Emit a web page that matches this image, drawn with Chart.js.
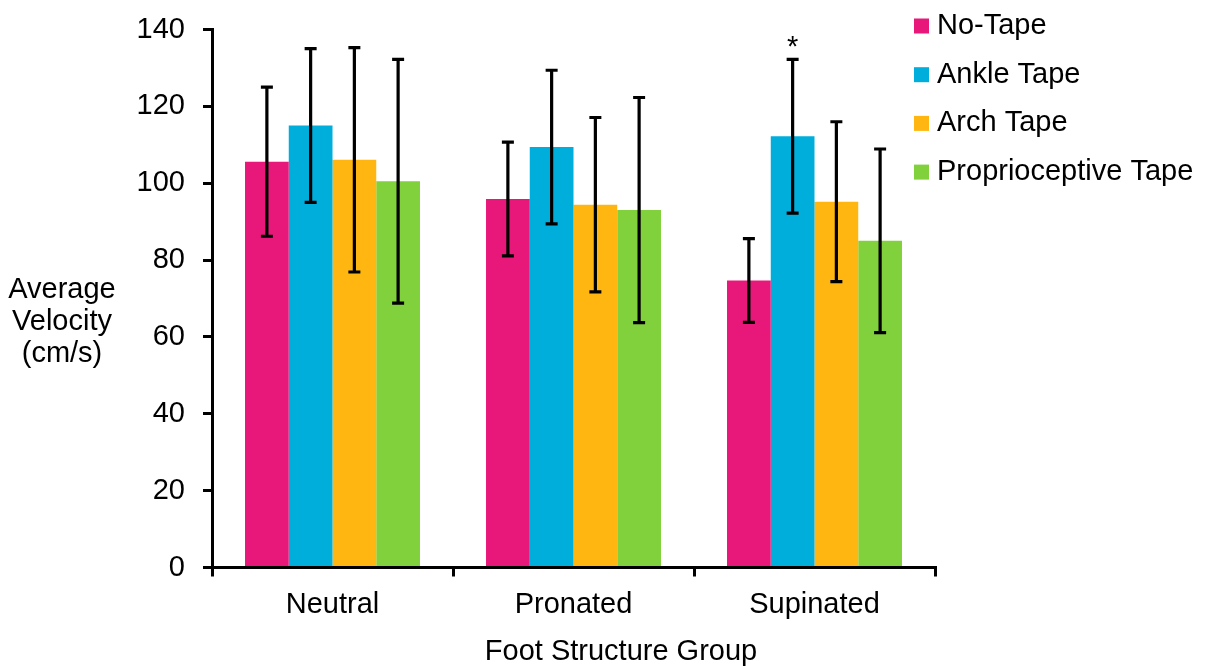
<!DOCTYPE html>
<html>
<head>
<meta charset="utf-8">
<script src="https://cdn.jsdelivr.net/npm/chart.js@4.4.1/dist/chart.umd.min.js"></script>
<style>
  html, body { margin: 0; padding: 0; background: #fff; }
  #box { width: 1205px; height: 666px; }
</style>
</head>
<body>
<div id="box"><canvas id="myChart"></canvas></div>
<script>
let grupos = ['Neutral', 'Pronated', 'Supinated']

let noTape = [105.6, 95.9, 74.7]
let noTapeDp = [19.4, 14.8, 10.9]
let ankleTape = [115.0, 109.4, 112.2]
let ankleTapeDp = [20.0, 20.0, 20.0]
let archTape = [106.1, 94.4, 95.2]
let archTapeDp = [29.2, 22.7, 20.8]
let proprioTape = [100.5, 93.0, 85.0]
let proprioTapeDp = [31.7, 29.3, 23.9]
let ankleSig = ['', '', '*']

let yMin = 0
let yMax = 140
let yPasso = 20

const fonte = '"Liberation Sans", Arial, sans-serif'
const tam = 29

// barras de erro (media +/- dp) e asterisco
const barrasErro = {
    id: 'barrasErro',
    afterDatasetsDraw(chart) {
        const c = chart.ctx
        const y = chart.scales.y
        c.save()
        c.strokeStyle = '#000'
        c.fillStyle = '#000'
        c.lineWidth = 3.2
        c.font = tam + 'px ' + fonte
        c.textAlign = 'center'
        c.textBaseline = 'alphabetic'
        chart.data.datasets.forEach((ds, i) => {
            chart.getDatasetMeta(i).data.forEach((bar, j) => {
                const topo = y.getPixelForValue(ds.data[j] + ds.dp[j])
                const base = y.getPixelForValue(ds.data[j] - ds.dp[j])
                c.beginPath()
                c.moveTo(bar.x, topo); c.lineTo(bar.x, base)
                c.moveTo(bar.x - 6, topo); c.lineTo(bar.x + 6, topo)
                c.moveTo(bar.x - 6, base); c.lineTo(bar.x + 6, base)
                c.stroke()
                if (ds.sig && ds.sig[j]) c.fillText(ds.sig[j], bar.x, topo - 3)
            })
        })
        c.restore()
    }
}

// legenda e titulos desenhados a mao
const textos = {
    id: 'textos',
    afterDraw(chart) {
        const c = chart.ctx
        c.save()
        c.font = tam + 'px ' + fonte
        c.fillStyle = '#000'
        c.textBaseline = 'middle'
        chart.data.datasets.forEach((ds, i) => {
            const ly = 26 + i * 48.7
            c.fillStyle = ds.backgroundColor
            c.fillRect(914, ly - 7.5, 15, 15)
            c.fillStyle = '#000'
            c.textAlign = 'left'
            c.fillText(ds.label, 937, ly)
        })
        c.textAlign = 'center'
        c.fillText('Average', 62, 290)
        c.fillText('Velocity', 62, 322)
        c.fillText('(cm/s)', 62, 354)
        c.fillText('Foot Structure Group', 621, 652)
        c.restore()
    }
}

var ctx = document.getElementById('myChart').getContext('2d');
var grafico = new Chart(ctx, {
    type: 'bar',
    data: {
        labels: grupos,
        datasets: [{
            label: 'No-Tape',
            data: noTape,
            dp: noTapeDp,
            backgroundColor: '#E8187A'
        }, {
            label: 'Ankle Tape',
            data: ankleTape,
            dp: ankleTapeDp,
            sig: ankleSig,
            backgroundColor: '#00AEDB'
        }, {
            label: 'Arch Tape',
            data: archTape,
            dp: archTapeDp,
            backgroundColor: '#FFB611'
        }, {
            label: 'Proprioceptive Tape',
            data: proprioTape,
            dp: proprioTapeDp,
            backgroundColor: '#80D13B'
        }]
    },
    options: {
        responsive: true,
        maintainAspectRatio: false,
        animation: false,
        datasets: {
            bar: { barPercentage: 1, categoryPercentage: 0.726 }
        },
        layout: { padding: { left: 0, right: 270, top: 29.5, bottom: 0 } },
        plugins: {
            legend: { display: false },
            tooltip: { enabled: false }
        },
        scales: {
            x: {
                afterFit: s => { s.height = 98.5 },
                grid: { offset: true, drawOnChartArea: false, drawTicks: true, tickLength: 9, color: '#000', lineWidth: 3 },
                border: { display: true, color: '#000', width: 3 },
                ticks: { color: '#000', padding: 11, font: { family: fonte, size: tam } }
            },
            y: {
                min: yMin,
                max: yMax,
                afterFit: s => { s.width = 212; s.paddingTop = 0; s.paddingBottom = 0 },
                grid: { drawOnChartArea: false, drawTicks: true, tickLength: 9, color: '#000', lineWidth: 3 },
                border: { display: true, color: '#000', width: 3 },
                ticks: { stepSize: yPasso, color: '#000', padding: 18, font: { family: fonte, size: tam } }
            }
        }
    },
    plugins: [barrasErro, textos]
});
</script>
</body>
</html>
